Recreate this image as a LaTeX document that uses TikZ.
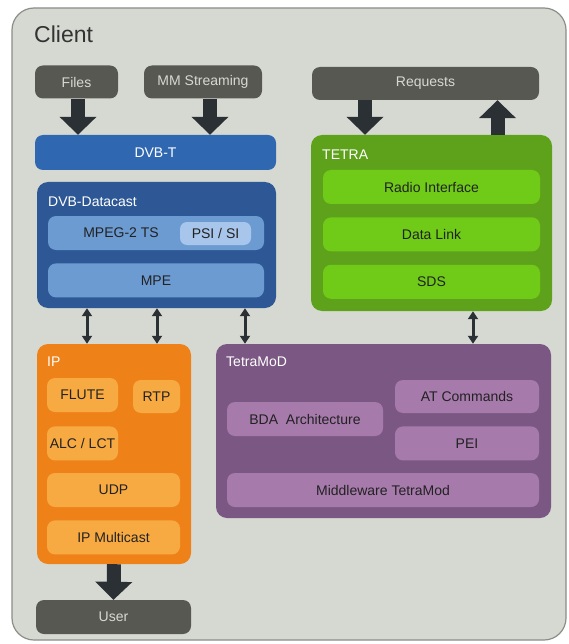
\documentclass[tikz,border=0pt]{standalone}
\usepackage{fontspec}
\setmainfont{Liberation Sans}
\usetikzlibrary{positioning,arrows.meta}

\definecolor{clientbg}{HTML}{D6D9D1}
\definecolor{clientline}{HTML}{8C8E89}
\definecolor{darkbox}{HTML}{575852}
\definecolor{arrowc}{HTML}{2B3034}
\definecolor{dvbt}{HTML}{2F68B1}
\definecolor{datacast}{HTML}{2E5895}
\definecolor{datainner}{HTML}{6C9BD2}
\definecolor{psi}{HTML}{A8C5EB}
\definecolor{tetra}{HTML}{5EA21C}
\definecolor{tetrainner}{HTML}{6FCB17}
\definecolor{ipc}{HTML}{EE8218}
\definecolor{ipinner}{HTML}{F8AA42}
\definecolor{tmod}{HTML}{7B5883}
\definecolor{tmodinner}{HTML}{A77AAC}
\definecolor{innertext}{HTML}{222222}

\begin{document}
\begin{tikzpicture}[x=1pt,y=-1pt,
		every node/.style={
			rectangle,
			rounded corners=8pt,
			inner sep=0pt,
			minimum height=34pt,
			font=\fontsize{14}{16}\selectfont,
			text=innertext
		},
		outside/.style={
			fill=darkbox,
			text=clientbg,
			minimum height=33pt
		},
		group/.style={
			rounded corners=11pt
		},
		title/.style={
			text=white,
			minimum height=0pt,
			anchor=west
		},
		bigarrow/.style={
			draw=arrowc,
			line width=14pt,
			-{Triangle[width=36pt,length=18pt]}
		},
		dblarrow/.style={
			draw=arrowc,
			line width=3pt,
			{Triangle[width=10pt,length=8pt]}-{Triangle[width=10pt,length=8pt]}
		}]

		\useasboundingbox (0,0) rectangle (569,644);

		\node[draw=clientline, fill=clientbg, line width=1.2pt, rounded corners=22pt,
			minimum width=554pt, minimum height=632pt] at (289,324) (client) {};
		\node[title, text=black!80, font=\fontsize{23}{26}\selectfont] at (34,34) (clientlabel) {Client};

		%outside world
		\node[outside, minimum width=83pt] at (76.5,82) (files) {Files};
		\node[outside, minimum width=118pt] at (203,82) (mm) {MM Streaming};
		\node[outside, minimum width=227pt] at (425.5,83.5) (requests) {Requests};
		\node[outside, minimum width=155pt, minimum height=34pt] at (113.5,617) (user) {User};

		%DVB
		\node[fill=dvbt, text=white, minimum width=241pt, minimum height=35pt] at (155.5,152.5) (dvbt) {DVB-T};
		\node[group, fill=datacast, minimum width=239pt, minimum height=126pt] at (156.5,245) (datacast) {};
		\node[title] at (48,202) (datacastlabel) {DVB-Datacast};
		\node[fill=datainner, minimum width=216pt] at (156,233) (mpeg) {\hspace*{-70pt}MPEG-2 TS};
		\node[fill=psi, minimum width=71pt, minimum height=23pt, rounded corners=7pt] at (215.5,233.5) (psi) {PSI / SI};
		\node[fill=datainner, minimum width=216pt, below=13pt of mpeg] (mpe) {MPE};

		%TETRA
		\node[group, fill=tetra, minimum width=241pt, minimum height=176pt] at (431.5,223) (tetra) {};
		\node[title] at (322,155) (tetralabel) {TETRA};
		\node[fill=tetrainner, minimum width=217pt] at (431.5,187) (radio) {Radio Interface};
		\node[fill=tetrainner, minimum width=217pt, below=13pt of radio] (datalink) {Data Link};
		\node[fill=tetrainner, minimum width=217pt, below=13pt of datalink] (sds) {SDS};

		%IP
		\node[group, fill=ipc, minimum width=154pt, minimum height=220pt] at (114,454) (ip) {};
		\node[title] at (47,362) (iplabel) {IP};
		\node[fill=ipinner, minimum width=71pt] at (82.5,395) (flute) {FLUTE};
		\node[fill=ipinner, minimum width=47pt, minimum height=33pt] at (156.5,396.5) (rtp) {RTP};
		\node[fill=ipinner, minimum width=71pt, below=14pt of flute] (alc) {ALC / LCT};
		\node[fill=ipinner, minimum width=133pt] at (113.5,490) (udp) {UDP};
		\node[fill=ipinner, minimum width=133pt, below=13pt of udp] (multicast) {IP Multicast};

		%TetraMoD
		\node[group, fill=tmod, minimum width=335pt, minimum height=174pt] at (383.5,431) (tmod) {};
		\node[title] at (226,362) (tmodlabel) {TetraMoD};
		\node[fill=tmodinner, minimum width=144pt, minimum height=33pt] at (467,396.5) (at) {AT Commands};
		\node[fill=tmodinner, minimum width=144pt, below=13pt of at] (pei) {PEI};
		\node[fill=tmodinner, minimum width=156pt] at (305,419) (bda) {BDA\ \ Architecture};
		\node[fill=tmodinner, minimum width=312pt] at (383,490) (middleware) {Middleware TetraMod};

		%arrows
		\draw[bigarrow] ([xshift=1.5pt]files.south) -- ([xshift=1.5pt]files.south |- dvbt.north);
		\draw[bigarrow] ([xshift=7pt]mm.south) -- ([xshift=7pt]mm.south |- dvbt.north);
		\draw[bigarrow] ([xshift=-60.5pt]requests.south) -- ([xshift=-60.5pt]requests.south |- tetra.north);
		\draw[bigarrow] ([xshift=66pt]tetra.north) -- ([xshift=66pt]tetra.north |- requests.south);
		\draw[bigarrow] (ip.south) -- (user.north);

		\draw[dblarrow] ([xshift=-69.5pt]datacast.south) -- ([xshift=-69.5pt]datacast.south |- ip.north);
		\draw[dblarrow] ([xshift=0.5pt]datacast.south) -- ([xshift=0.5pt]datacast.south |- ip.north);
		\draw[dblarrow] ([xshift=88.5pt]datacast.south) -- ([xshift=88.5pt]datacast.south |- tmod.north);
		\draw[dblarrow] ([xshift=41.5pt]tetra.south) -- ([xshift=41.5pt]tetra.south |- tmod.north);

	\end{tikzpicture}
\end{document}
